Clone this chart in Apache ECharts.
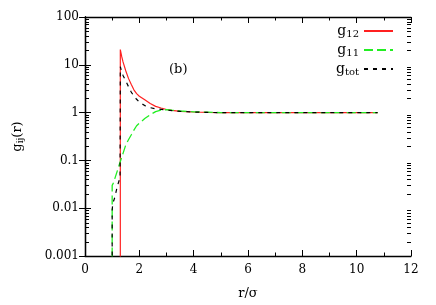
<!DOCTYPE html>
<html><head><meta charset="utf-8">
<script src="https://cdn.jsdelivr.net/npm/echarts@6/dist/echarts.min.js"></script>
<style>html,body{margin:0;padding:0;background:#fff}#c{width:436px;height:305px}</style>
</head><body><div id="c"></div>
<script>
// r/σ values and g(r) values (values below 0.001 stand for zero / off-axis)
const r12 = [1.3, 1.3, 1.35, 1.4, 1.5, 1.6, 1.7, 1.8, 1.9, 2.0, 2.2, 2.4, 2.6, 2.8, 3.0, 3.2, 3.5, 4.0, 4.5, 5, 6, 7, 8, 9, 10, 10.77];
const g12 = [1e-6, 20.8, 15, 11.5, 7.5, 5.2, 3.9, 3.0, 2.5, 2.2, 1.85, 1.55, 1.35, 1.25, 1.16, 1.11, 1.06, 1.03, 1.01, 1.0, 1.0, 1.0, 1.0, 1.0, 1.0, 1.0];
const r11 = [1.0, 1.0, 1.02, 1.05, 1.1, 1.2, 1.3, 1.4, 1.5, 1.6, 1.7, 1.8, 1.9, 2.0, 2.2, 2.4, 2.6, 2.8, 3.0, 3.2, 3.5, 4.0, 4.5, 5, 6, 7, 8, 9, 10, 10.77];
const g11 = [1e-6, 0.03, 0.032, 0.034, 0.042, 0.063, 0.095, 0.14, 0.21, 0.27, 0.34, 0.43, 0.53, 0.6, 0.75, 0.9, 1.05, 1.13, 1.15, 1.12, 1.08, 1.04, 1.02, 1.0, 1.0, 1.0, 1.0, 1.0, 1.0, 1.0];
const rtot = [1.0, 1.0, 1.02, 1.05, 1.1, 1.15, 1.2, 1.25, 1.29, 1.3, 1.35, 1.4, 1.5, 1.6, 1.7, 1.8, 1.9, 2.0, 2.2, 2.4, 2.6, 2.8, 3.0, 3.2, 3.5, 4.0, 4.5, 5, 6, 7, 8, 9, 10, 10.77];
const gtot = [1e-6, 0.009, 0.012, 0.014, 0.017, 0.023, 0.03, 0.037, 0.042, 9.1, 7.2, 6.0, 4.6, 3.5, 2.7, 2.2, 1.9, 1.65, 1.4, 1.27, 1.2, 1.17, 1.13, 1.1, 1.06, 1.03, 1.01, 1.0, 1.0, 1.0, 1.0, 1.0, 1.0, 1.0];
const seriesNames = ['g12', 'g11', 'gtot'];
const xTicks = [0, 2, 4, 6, 8, 10, 12];
const yTicks = ['0.001', '0.01', '0.1', '1', '10', '100'];
const yMinorTicks = [];
[0.001, 0.01, 0.1, 1, 10].forEach(d => { for (let k = 2; k <= 9; k++) yMinorTicks.push(+(d * k).toPrecision(3)); });

const FONT = 'DejaVu Serif';
const pair = (xs, ys) => xs.map((x, i) => [x, ys[i]]);
const chart = echarts.init(document.getElementById('c'), null, {renderer: 'canvas'});
const axLine = {show: true, lineStyle: {color: '#000', width: 1.3}};
const subRich = {
  b: {fontFamily: FONT, fontSize: 14, color: '#000'},
  s: {fontFamily: FONT, fontSize: 10, color: '#000', verticalAlign: 'bottom', padding: [6, 0, 0, 0]}
};
function tickSeries(side) {
  return {
    type: 'custom', xAxisIndex: 0, yAxisIndex: 0, silent: true, clip: false, z: 10,
    data: yMinorTicks.map(v => [side === 'left' ? 0 : 12, v]),
    renderItem: (params, api) => {
      const p = api.coord([api.value(0), api.value(1)]);
      const x0 = p[0];
      const y = Math.round(p[1]) + 0.5;
      const x1 = side === 'left' ? x0 + 4 : x0 - 4;
      return {type: 'line', shape: {x1: x0, y1: y, x2: x1, y2: y}, style: {stroke: '#000', lineWidth: 1}};
    }
  };
}
chart.setOption({
  animation: false,
  backgroundColor: '#fff',
  title: {text: '(b)', left: 164, top: 58, textStyle: {fontFamily: FONT, fontSize: 13, fontWeight: 'normal', color: '#000'}},
  grid: {left: 85, right: 25, top: 17, bottom: 45},
  legend: {
    orient: 'vertical', right: 37, top: 19, align: 'right', itemWidth: 29, itemHeight: 10, itemGap: 4,
    data: seriesNames,
    itemStyle: {opacity: 0},
    formatter: n => '{b|g}{s|' + n.slice(1) + '}',
    textStyle: {rich: subRich}
  },
  xAxis: [{
    type: 'value', min: 0, max: 12, interval: 2, position: 'bottom',
    name: 'r/σ', nameLocation: 'middle', nameGap: 31,
    nameTextStyle: {fontFamily: FONT, fontSize: 13, color: '#000'},
    axisLine: axLine,
    axisTick: {inside: true, length: 6, lineStyle: {color: '#000', width: 1}},
    minorTick: {show: true, splitNumber: 2, length: 3.5, lineStyle: {color: '#000', width: 1}},
    axisLabel: {fontFamily: FONT, fontSize: 12, color: '#000', margin: 8, formatter: v => xTicks.includes(v) ? String(v) : ''},
    splitLine: {show: false}
  }, {
    type: 'value', min: 0, max: 12, interval: 2, position: 'top',
    axisLine: axLine,
    axisTick: {inside: true, length: 6, lineStyle: {color: '#000', width: 1}},
    minorTick: {show: true, splitNumber: 2, length: 3.5, lineStyle: {color: '#000', width: 1}},
    axisLabel: {show: false}, splitLine: {show: false}
  }],
  yAxis: [{
    type: 'log', logBase: 10, min: 0.001, max: 100, position: 'left',
    name: 'g{s|ij}(r)', nameLocation: 'middle', nameGap: 60, nameRotate: 90,
    nameTextStyle: {fontFamily: FONT, fontSize: 13, color: '#000', rich: {s: {fontFamily: FONT, fontSize: 9, color: '#000', verticalAlign: 'bottom', padding: [6, 0, 0, 0]}}},
    axisLine: axLine,
    axisTick: {inside: true, length: 6, lineStyle: {color: '#000', width: 1}},
    axisLabel: {fontFamily: FONT, fontSize: 12, color: '#000', margin: 6, formatter: v => {
      const i = Math.round(Math.log10(v)) + 3; return yTicks[i] !== undefined ? yTicks[i] : '';
    }},
    splitLine: {show: false}
  }, {
    type: 'log', logBase: 10, min: 0.001, max: 100, position: 'right',
    axisLine: axLine,
    axisTick: {inside: true, length: 6, lineStyle: {color: '#000', width: 1}},
    axisLabel: {show: false}, splitLine: {show: false}
  }],
  series: [
    {name: 'g12', type: 'line', data: pair(r12, g12), showSymbol: false, symbol: 'none', z: 2,
      lineStyle: {color: '#ff2020', width: 1.2}, itemStyle: {color: '#ff2020'}},
    {name: 'g11', type: 'line', data: pair(r11, g11), showSymbol: false, symbol: 'none', z: 3,
      lineStyle: {color: '#22ee22', width: 1.3, type: [9, 4]}, itemStyle: {color: '#22ee22'}},
    {name: 'gtot', type: 'line', data: pair(rtot, gtot), showSymbol: false, symbol: 'none', z: 4,
      lineStyle: {color: '#000', width: 1.2, type: [4, 5]}, itemStyle: {color: '#000'}},
    tickSeries('left'), tickSeries('right')
  ]
});
</script></body></html>
